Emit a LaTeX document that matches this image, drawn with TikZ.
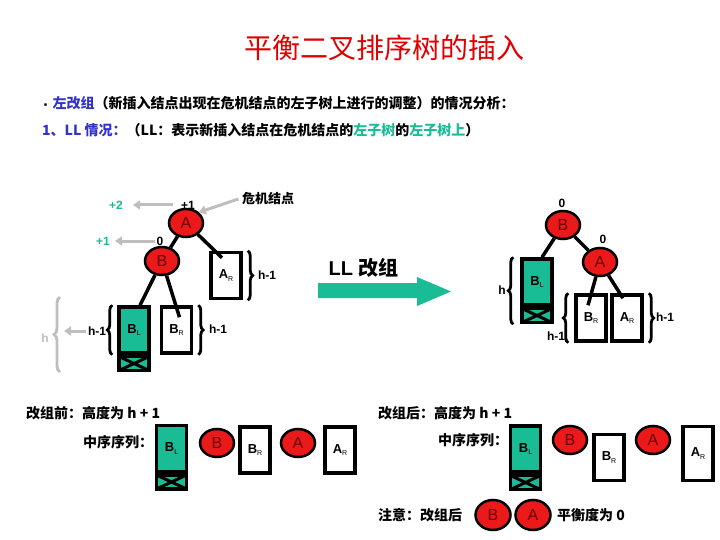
\documentclass[tikz,border=0pt]{standalone}
\usepackage{fontspec}
\setmainfont{Liberation Sans}
\newfontfamily\cjk{Noto Sans CJK SC}
\usetikzlibrary{arrows.meta,decorations.pathreplacing,shapes.geometric}
\definecolor{avlred}{RGB}{235,25,25}
\definecolor{avldark}{RGB}{105,0,0}
\definecolor{avlteal}{RGB}{26,188,150}
\definecolor{avlblue}{RGB}{51,51,204}
\definecolor{avlgray}{RGB}{190,190,190}
\definecolor{avltitle}{RGB}{225,0,0}
\newcommand{\lsub}[1]{\raisebox{-.4ex}{\mdseries\fontsize{7}{7}\selectfont #1}}

\begin{document}
\begin{tikzpicture}[x=1pt,y=-1pt,
  tnode/.style={ellipse,draw,fill=avlred,line width=2.5pt,minimum width=34pt,minimum height=28pt,inner sep=0pt,text=avldark,font=\fontsize{16}{16}\selectfont},
  subtree/.style={rectangle,draw,line width=3.5pt,minimum width=30pt,minimum height=46pt,inner sep=0pt,font=\fontsize{13}{13}\selectfont\bfseries},
  grown/.style={subtree,fill=avlteal},
  xcell/.style={rectangle,draw,fill=avlteal,line width=3.5pt,minimum width=30pt,minimum height=14pt,inner sep=0pt,
    path picture={\draw[line width=3pt] (path picture bounding box.north west) -- (path picture bounding box.south east)
      (path picture bounding box.north east) -- (path picture bounding box.south west);}},
  tedge/.style={line width=3.5pt},
  brc/.style={decorate,decoration={brace,amplitude=5pt},line width=2.8pt},
  grayarr/.style={draw=avlgray,line width=3pt,-{Triangle[length=7pt,width=9pt]}},
  lbl/.style={font=\fontsize{12}{12}\selectfont\bfseries,inner sep=1pt},
  cjktext/.style={font=\cjk\fontsize{14}{14}\selectfont\bfseries,anchor=west,inner sep=0pt}
]
\fill[white] (0,0) rectangle (720,540);
\useasboundingbox (0,0) rectangle (720,540);

% heading
\node[font=\cjk\fontsize{28}{28}\selectfont,text=avltitle] (title) at (384,48) {平衡二叉排序树的插入};
\node[cjktext] (head1) at (41,103) {{\fontsize{9}{9}\selectfont ▪}\,{\color{avlblue}左改组}（新插入结点出现在危机结点的左子树上进行的调整）的情况分析：};
\node[cjktext] (head2) at (42,130) {{\color{avlblue}1、LL 情况：}（LL：表示新插入结点在危机结点的{\color{avlteal}左子树}的{\color{avlteal}左子树上}）};

% before
\node[tnode] (lA) at (186,223) {A};
\node[tnode] (lB) at (162,261) {B};
\node[subtree] (lAR) at (226,275.5) {A\lsub{R}};
\node[grown] (lBL) at (134,330) {B\lsub{L}};
\node[xcell,anchor=north] (lBLx) at (lBL.south) {};
\node[subtree] (lBR) at (176.5,330) {B\lsub{R}};
\draw[tedge] (lA) -- (lB);
\draw[tedge] (lA) -- ([xshift=-4pt,yshift=-7pt]lAR.north);
\draw[tedge] (lB) -- ([xshift=6pt]lBL.north);
\draw[tedge] (lB) -- ([xshift=3pt,yshift=-12pt]lBR.north);

\node[lbl] (lbA) at (188,205) {+1};
\node[lbl] (lbB) at (160,241) {0};
\node[lbl,text=avlteal] (lnA) at (116,205) {+2};
\node[lbl,text=avlteal] (lnB) at (103,241) {+1};
\node[font=\cjk\fontsize{13}{13}\selectfont\bfseries] (crisis) at (268,199) {危机结点};
\draw[grayarr,shorten <=7pt,shorten >=9pt] (lbA.west) -- (lnA.east);
\draw[grayarr,shorten >=4pt] (lbB.west) -- (lnB.east);
\draw[grayarr] (crisis.west) -- (lA.north east);

\draw[brc] ([xshift=5pt]lAR.north east) -- ([xshift=5pt]lAR.south east);
\draw[brc] ([xshift=-5pt]lBL.south west) -- ([xshift=-5pt]lBL.north west);
\draw[brc] ([xshift=5pt]lBR.north east) -- ([xshift=5pt]lBR.south east);
\node[lbl] (lhAR) at (267,275) {h-1};
\node[lbl] (lhBL) at (97,331) {h-1};
\node[lbl] (lhBR) at (218,329) {h-1};
\draw[brc,avlgray,decoration={amplitude=6pt}] (60,372) -- (60,297);
\node[lbl,text=avlgray] (lh) at (45,338) {h};
\coordinate (gbr) at (64,331);
\draw[grayarr,shorten <=1pt] (lhBL.west) -- (gbr);

% LL step
\node[font=\fontsize{20}{20}\selectfont\bfseries,anchor=west] (llstep) at (325,268) {LL {\cjk 改组}};
\fill[avlteal] (318,283) -- (417,283) -- (417,277) -- (451,291.5) -- (417,306) -- (417,298) -- (318,298) -- cycle;

% after
\node[tnode] (rB) at (563,225) {B};
\node[tnode] (rA) at (600,262) {A};
\node[grown] (rBL) at (537,282) {B\lsub{L}};
\node[xcell,anchor=north] (rBLx) at (rBL.south) {};
\node[subtree] (rBR) at (591,318) {B\lsub{R}};
\node[subtree] (rAR) at (627,318) {A\lsub{R}};
\draw[tedge] (rB) -- ([xshift=5pt]rBL.north);
\draw[tedge] (rB) -- (rA);
\draw[tedge] (rA) -- ([xshift=-3pt,yshift=-12pt]rBR.north);
\draw[tedge] (rA) -- ([xshift=-4pt,yshift=-5pt]rAR.north);
\node[lbl] (rbB) at (562,203) {0};
\node[lbl] (rbA) at (603,239) {0};
\draw[brc] ([xshift=-7pt]rBLx.south west) -- ([xshift=-7pt]rBL.north west);
\draw[brc] ([xshift=-6pt]rBR.south west) -- ([xshift=-6pt]rBR.north west);
\draw[brc] ([xshift=5pt]rAR.north east) -- ([xshift=5pt]rAR.south east);
\node[lbl] (rhBL) at (502,290) {h};
\node[lbl] (rhBR) at (556,336) {h-1};
\node[lbl] (rhAR) at (665,317) {h-1};

% in-order, before
\node[cjktext] (before) at (26,413) {改组前：高度为 h + 1};
\node[cjktext] (seqL) at (83,442) {中序序列：};
\node[grown] (ilBL) at (171.5,448.5) {B\lsub{L}};
\node[xcell,anchor=north] (ilBLx) at (ilBL.south) {};
\node[tnode] (ilB) at (217,443) {B};
\node[subtree] (ilBR) at (255,450) {B\lsub{R}};
\node[tnode] (ilA) at (298,443) {A};
\node[subtree] (ilAR) at (340,450) {A\lsub{R}};

% in-order, after
\node[cjktext] (after) at (378,413) {改组后：高度为 h + 1};
\node[cjktext] (seqR) at (438,440) {中序序列：};
\node[grown] (irBL) at (525.5,449) {B\lsub{L}};
\node[xcell,anchor=north] (irBLx) at (irBL.south) {};
\node[tnode] (irB) at (570,440) {B};
\node[subtree] (irBR) at (609,457.5) {B\lsub{R}};
\node[tnode] (irA) at (653,440) {A};
\node[subtree,minimum height=54pt] (irAR) at (698,453.5) {A\lsub{R}};

% note
\node[cjktext] (note) at (378,515) {注意：改组后};
\node[tnode,minimum width=35pt,minimum height=30pt] (nB) at (493,515) {B};
\node[tnode,minimum width=35pt,minimum height=30pt] (nA) at (533,515) {A};
\node[cjktext] (zero) at (557,515) {平衡度为 0};
\end{tikzpicture}
\end{document}
